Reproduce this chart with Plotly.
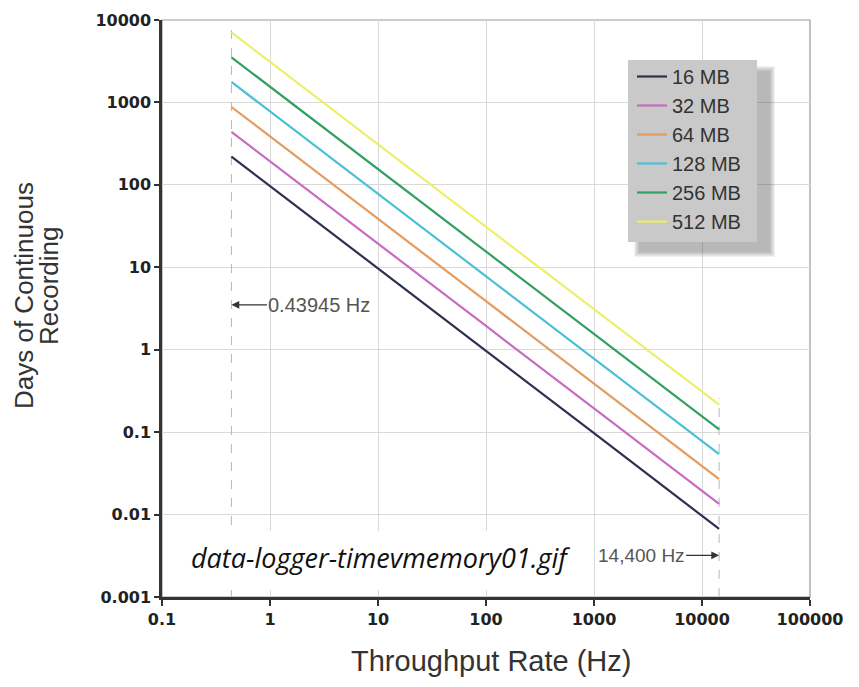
import plotly.graph_objects as go
import math

# ---------------- data ----------------
rate_hz = [0.43945, 1, 10, 100, 1000, 10000, 14400]
mem_labels = ["16 MB", "32 MB", "64 MB", "128 MB", "256 MB", "512 MB"]
days_16 = [220, 97, 9.7, 0.97, 0.097, 0.0097, 0.0067]
days_32 = [440, 194, 19.4, 1.94, 0.194, 0.0194, 0.0135]
days_64 = [880, 388, 38.8, 3.88, 0.388, 0.0388, 0.027]
days_128 = [1770, 777, 77.7, 7.77, 0.777, 0.0777, 0.054]
days_256 = [3530, 1550, 155, 15.5, 1.55, 0.155, 0.108]
days_512 = [7070, 3100, 310, 31, 3.1, 0.31, 0.215]
series_days = [days_16, days_32, days_64, days_128, days_256, days_512]
line_colors = ["#2e3050", "#c86cc0", "#e49b5f", "#4bbfd6", "#33a063", "#ecef6a"]

x_tickvals = [0.1, 1, 10, 100, 1000, 10000, 100000]
x_ticktext = ["0.1", "1", "10", "100", "1000", "10000", "100000"]
y_tickvals = [0.001, 0.01, 0.1, 1, 10, 100, 1000, 10000]
y_ticktext = ["0.001", "0.01", "0.1", "1", "10", "100", "1000", "10000"]

marker_rates = [0.43945, 14400]
marker_top = [7070, 0.215]
axis_floor = 0.001

# ---------------- layout constants ----------------
OFF = 8  # page body margin
W, H = 859 - OFF, 687 - OFF
ML, MR, MT, MB = 162 - OFF, 49, 20 - OFF, 90
PW = W - ML - MR
PH = H - MT - MB

fig = go.Figure()

# dashed reference lines at the two end rates
for r, top in zip(marker_rates, marker_top):
    fig.add_trace(go.Scatter(
        x=[r, r], y=[axis_floor, top * 1.2], mode="lines",
        line=dict(color="#b8b8b8", width=1, dash="dash"),
        showlegend=False, hoverinfo="skip"))

for name, ys, col in zip(mem_labels, series_days, line_colors):
    fig.add_trace(go.Scatter(
        x=rate_hz, y=ys, mode="lines", name=name,
        line=dict(color=col, width=2.2)))

def px_x(p):
    return (p - OFF - ML) / PW

def px_y(p):
    return (H - MB - (p - OFF)) / PH

shapes = []
# plot border (top / right lighter)
shapes.append(dict(type="rect", xref="paper", yref="paper", x0=0, x1=1, y0=0, y1=1,
                   line=dict(color="#9a9a9a", width=1.2), layer="below"))
# legend shadow (soft)
for i in range(6):
    g = 6 - i
    shapes.append(dict(type="rect", xref="paper", yref="paper",
                       x0=px_x(640 - g), x1=px_x(769 + g),
                       y0=px_y(251 + g), y1=px_y(72 - g),
                       fillcolor="#4a4a4a", opacity=0.08, line=dict(width=0),
                       layer="above"))
# legend panel
shapes.append(dict(type="rect", xref="paper", yref="paper",
                   x0=px_x(628), x1=px_x(757), y0=px_y(242), y1=px_y(60),
                   fillcolor="#c9c9c9", line=dict(width=0), layer="above"))
# white label box
shapes.append(dict(type="rect", xref="paper", yref="paper",
                   x0=px_x(164), x1=px_x(594), y0=px_y(590), y1=px_y(531),
                   fillcolor="#ffffff", line=dict(width=0), layer="above"))
fig.update_layout(shapes=shapes)

tick_font = dict(family="DejaVu Sans", size=16, color="#222222", weight="bold")

fig.update_xaxes(type="log", range=[-1, 5], tickvals=x_tickvals, ticktext=x_ticktext,
                 showgrid=True, gridcolor="#d9d9d9", gridwidth=1,
                 showline=True, linecolor="#333333", linewidth=2.5,
                 ticks="outside", ticklen=6, tickcolor="#333333", tickwidth=1.5,
                 tickfont=tick_font, zeroline=False, automargin=False)
fig.update_yaxes(type="log", range=[-3, 4], tickvals=y_tickvals, ticktext=y_ticktext,
                 showgrid=True, gridcolor="#d9d9d9", gridwidth=1,
                 showline=True, linecolor="#333333", linewidth=2.5,
                 ticks="outside", ticklen=5, tickcolor="#333333", tickwidth=1.5,
                 tickfont=tick_font, zeroline=False, automargin=False)

title_font = dict(family="Liberation Sans", size=26, color="#333333")
annotations = [
    dict(xref="paper", yref="paper", x=px_x(24), y=px_y(296), textangle=-90,
         text="Days of Continuous", showarrow=False, font=title_font,
         xanchor="center", yanchor="middle"),
    dict(xref="paper", yref="paper", x=px_x(49), y=px_y(286), textangle=-90,
         text="Recording", showarrow=False, font=title_font,
         xanchor="center", yanchor="middle"),
    dict(xref="paper", yref="paper", x=px_x(491), y=px_y(661),
         text="Throughput Rate (Hz)", showarrow=False,
         font=dict(family="Liberation Sans", size=29, color="#333333"),
         xanchor="center", yanchor="middle"),
    dict(x=math.log10(0.43945), y=math.log10(3.5), xref="x", yref="y",
         text="0.43945 Hz", showarrow=True, arrowhead=2, arrowsize=1.2,
         arrowwidth=1.3, arrowcolor="#333333", ax=88, ay=0,
         font=dict(family="Liberation Sans", size=20, color="#555555")),
    dict(x=math.log10(14400), y=math.log10(0.0032), xref="x", yref="y",
         text="14,400 Hz", showarrow=True, arrowhead=2, arrowsize=1.2,
         arrowwidth=1.3, arrowcolor="#333333", ax=-78, ay=0,
         font=dict(family="Liberation Sans", size=19, color="#555555")),
    dict(xref="paper", yref="paper", x=px_x(380), y=px_y(557),
         text="<i>data-logger-timevmemory01.gif</i>", showarrow=False,
         font=dict(family="Open Sans", size=27, color="#111111"),
         xanchor="center", yanchor="middle"),
]
fig.update_layout(annotations=annotations)

fig.update_layout(
    width=W, height=H,
    margin=dict(l=ML, r=MR, t=MT, b=MB, autoexpand=False),
    paper_bgcolor="#ffffff", plot_bgcolor="#ffffff",
    legend=dict(x=px_x(632), y=px_y(57), xanchor="left", yanchor="top",
                bgcolor="rgba(0,0,0,0)", borderwidth=0,
                font=dict(family="Liberation Sans", size=20, color="#333333"),
                itemwidth=30, tracegroupgap=0),
    showlegend=True,
)

fig.write_html("out.html")
